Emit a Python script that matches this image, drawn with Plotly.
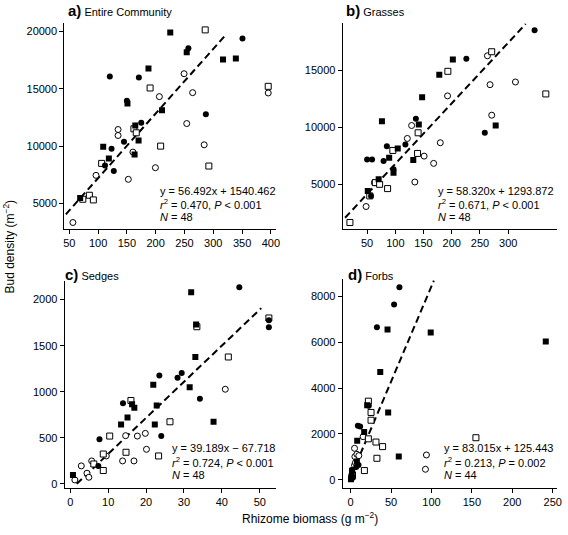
import plotly.graph_objects as go

W, H = 568, 535

# ---------------- data ----------------
# Panel a) Entire Community
a_fsq_x = [68.9, 108.9, 118.7, 151, 164.6, 170.3, 163.4, 187.5, 211, 225.3, 253.9, 316.9, 339.2]
a_fsq_y = [5464, 9935, 8916, 13703, 11788, 10483, 9265, 16778, 13123, 19911, 18200, 17562, 17649]
a_fci_x = [112, 120.4, 123.4, 127.3, 145, 150, 174.9, 170.8, 256.8, 287.1, 350.7]
a_fci_y = [8307, 16082, 9761, 7811, 10370, 13964, 12023, 15995, 18548, 12775, 19390]
a_osq_x = [73.5, 84.9, 91.8, 106.2, 162.2, 166.3, 190.3, 208.6, 286, 292.3, 395.4]
a_osq_y = [5348, 5696, 5290, 8481, 11501, 11153, 15067, 9990, 20143, 8249, 15212]
a_oci_x = [56.3, 96.4, 134.7, 134.7, 152.5, 160.5, 199.5, 206.4, 249.3, 253.9, 264.2, 284.2, 395.4]
a_oci_y = [3317, 7437, 11440, 10918, 7089, 9468, 8104, 14313, 16314, 11963, 14661, 10106, 14632]
a_fit_x = [44, 321]
a_fit_y = [4030, 19670]

# Panel b) Grasses
b_fsq_x = [51.2, 70.5, 76.3, 89.1, 96.8, 104.3, 131.8, 141.6, 147.5, 177.9, 201.9, 277.8]
b_fsq_y = [4442, 5462, 10545, 7354, 6046, 8165, 7145, 10260, 12645, 14622, 15959, 10174]
b_fci_x = [50, 58.8, 57, 79.2, 85, 96.8, 117.8, 136.4, 225.8, 258.5, 346.7]
b_fci_y = [7206, 7206, 4006, 7058, 8365, 6334, 8514, 10756, 16017, 9535, 18513]
b_osq_x = [19.6, 54.7, 64.6, 72.2, 86.3, 95.6, 140.4, 139.4, 193.1, 270.7, 366.6]
b_osq_y = [1686, 4012, 5174, 5026, 4651, 7990, 9534, 7729, 14913, 16628, 12936]
b_oci_x = [48.2, 62.9, 121.3, 128.9, 134.6, 151, 167.9, 179.7, 192.5, 263.2, 267.8, 270.8, 312.8]
b_oci_y = [3082, 5174, 9037, 10170, 5227, 7493, 6857, 8663, 12762, 16273, 13744, 11076, 13980]
b_fit_x = [11, 331]
b_fit_y = [2100, 19060]

# Panel c) Sedges
c_fsq_x = [0.7, 13.4, 15.1, 16.3, 16.9, 22.3, 21.9, 22.8, 31.9, 31.5, 33.2, 33.0, 37.8]
c_fsq_y = [97, 645, 721, 865, 825, 645, 1077, 850, 2079, 1049, 1730, 1377, 674]
c_fci_x = [7.4, 7.7, 13.9, 23.5, 24.0, 28.3, 29.4, 34.2, 44.6, 52.4, 52.4]
c_fci_y = [195, 483, 876, 1175, 519, 1153, 1204, 923, 2133, 1775, 1700]
c_osq_x = [6.2, 8.7, 8.7, 10.4, 14.7, 16.0, 23.3, 26.3, 33.4, 41.7, 52.4]
c_osq_y = [216, 324, 145, 519, 343, 905, 303, 674, 1705, 1377, 1800]
c_oci_x = [1.2, 2.9, 4.4, 4.9, 5.65, 9.5, 13.8, 14.6, 16.8, 17.7, 19.8, 20.1, 40.9]
c_oci_y = [43, 195, 116, 72, 249, 303, 249, 523, 249, 519, 548, 375, 1027]
c_fit_x = [1.7, 50.4]
c_fit_y = [0, 1907]

# Panel d) Forbs
d_fsq_x = [0.5, 0.9, 2.0, 7.8, 8.2, 16.8, 20.5, 36.7, 46.5, 45.7, 59.6, 99.1, 241.4]
d_fsq_y = [30, 104, 400, 798, 1709, 2084, 3250, 4701, 2938, 6553, 1015, 6423, 6032]
d_fci_x = [1.3, 1.7, 3.0, 7.0, 9.8, 9.0, 11.8, 22.5, 32.6, 53.8, 60.4]
d_fci_y = [247, 434, 100, 560, 651, 2360, 2330, 3230, 6654, 7638, 8390]
d_osq_x = [2.4, 17.1, 22, 25.3, 25.3, 22, 31.4, 39.6, 32.6, 155]
d_osq_y = [217, 407, 3430, 2938, 2600, 1790, 1649, 1450, 942, 1837]
d_oci_x = [1.5, 4.9, 5.3, 4.9, 6.0, 7.8, 10.2, 15.5, 93.8, 92.6]
d_oci_y = [120, 1376, 1013, 636, 750, 1115, 1056, 1883, 1085, 463]
d_fit_x = [12, 103]
d_fit_y = [1120, 8680]

titles = ["a)", "b)", "c)", "d)"]
subtitles = ["Entire Community", "Grasses", "Sedges", "Forbs"]
eq_lines = [
    ["y = 56.492x + 1540.462", "<i>r</i><sup>2</sup> = 0.470, <i>P</i> &lt; 0.001", "<i>N</i> = 48"],
    ["y = 58.320x + 1293.872", "<i>r</i><sup>2</sup> = 0.671, <i>P</i> &lt; 0.001", "<i>N</i> = 48"],
    ["y = 39.189x \u2212 67.718", "<i>r</i><sup>2</sup> = 0.724, <i>P</i> &lt; 0.001", "<i>N</i> = 48"],
    ["y = 83.015x + 125.443", "<i>r</i><sup>2</sup> = 0.213, <i>P</i> = 0.002", "<i>N</i> = 44"],
]
x_ticks = [[50, 100, 150, 200, 250, 300, 350, 400],
           [50, 100, 150, 200, 250, 300],
           [0, 10, 20, 30, 40, 50],
           [0, 50, 100, 150, 200, 250]]
y_ticks = [[5000, 10000, 15000, 20000],
           [5000, 10000, 15000],
           [0, 500, 1000, 1500, 2000],
           [0, 2000, 4000, 6000, 8000]]
x_ranges = [[41.4, 409], [6.7, 386], [-1.5, 54.3], [-9.8, 255]]
y_ranges = [[2737, 20779], [1103, 19176], [-46.5, 2202], [-360, 8754]]

# ---------------- layout geometry (pixels) ----------------
boxes = [  # left, right, top, bottom
    (64, 278, 22.7, 230),
    (345.3, 561.7, 22.7, 230),
    (64.3, 278, 282, 490),
    (345.3, 561.7, 280, 490),
]
title_pos = [(66, 11), (347, 11), (63, 276), (349, 276)]
eq_pos = [(158.7, [192, 205, 218]), (439.3, [192, 205, 218]),
          (170.7, [449.5, 463.5, 477]), (445.7, [449.5, 463.5, 477])]

FONT = "Liberation Sans, Arial, Helvetica, sans-serif"

panel_data = [
    (a_fsq_x, a_fsq_y, a_fci_x, a_fci_y, a_osq_x, a_osq_y, a_oci_x, a_oci_y, a_fit_x, a_fit_y),
    (b_fsq_x, b_fsq_y, b_fci_x, b_fci_y, b_osq_x, b_osq_y, b_oci_x, b_oci_y, b_fit_x, b_fit_y),
    (c_fsq_x, c_fsq_y, c_fci_x, c_fci_y, c_osq_x, c_osq_y, c_oci_x, c_oci_y, c_fit_x, c_fit_y),
    (d_fsq_x, d_fsq_y, d_fci_x, d_fci_y, d_osq_x, d_osq_y, d_oci_x, d_oci_y, d_fit_x, d_fit_y),
]

fig = go.Figure()
annotations = []
layout_axes = {}

for i, pdata in enumerate(panel_data):
    n = "" if i == 0 else str(i + 1)
    xa, ya = "x" + n, "y" + n
    fsx, fsy, fcx, fcy, osx, osy, ocx, ocy, fitx, fity = pdata
    fig.add_trace(go.Scatter(x=fitx, y=fity, mode="lines", xaxis=xa, yaxis=ya,
                             line=dict(color="black", width=2, dash="7px,4px"),
                             showlegend=False, hoverinfo="skip"))
    fig.add_trace(go.Scatter(x=ocx, y=ocy, mode="markers", xaxis=xa, yaxis=ya,
                             marker=dict(symbol="circle", size=6, color="white",
                                         line=dict(color="black", width=1)),
                             showlegend=False))
    fig.add_trace(go.Scatter(x=osx, y=osy, mode="markers", xaxis=xa, yaxis=ya,
                             marker=dict(symbol="square", size=6, color="white",
                                         line=dict(color="black", width=1)),
                             showlegend=False))
    fig.add_trace(go.Scatter(x=fcx, y=fcy, mode="markers", xaxis=xa, yaxis=ya,
                             marker=dict(symbol="circle", size=6, color="black",
                                         line=dict(width=0)),
                             showlegend=False))
    fig.add_trace(go.Scatter(x=fsx, y=fsy, mode="markers", xaxis=xa, yaxis=ya,
                             marker=dict(symbol="square", size=6, color="black",
                                         line=dict(width=0)),
                             showlegend=False))

    l, r, t, b = boxes[i]
    common = dict(showline=True, linecolor="black", linewidth=1, ticks="outside",
                  ticklen=4, tickwidth=1, tickcolor="black", showgrid=False,
                  zeroline=False, mirror=False,
                  tickfont=dict(size=11, color="black", family=FONT),
                  tickformat="d")
    layout_axes["xaxis" + n] = dict(common, domain=[l / W, r / W], range=x_ranges[i],
                                    tickvals=x_ticks[i], anchor=ya)
    layout_axes["yaxis" + n] = dict(common, domain=[1 - b / H, 1 - t / H], range=y_ranges[i],
                                    tickvals=y_ticks[i], anchor=xa)

    tx, ty = title_pos[i]
    annotations.append(dict(
        x=tx / W, y=1 - ty / H, xref="paper", yref="paper", xanchor="left", yanchor="middle",
        showarrow=False,
        text="<b><span style='font-size:15px'>" + titles[i] + "</span></b> " + subtitles[i],
        font=dict(size=11, color="black", family=FONT)))
    ex, eys = eq_pos[i]
    for line, ey in zip(eq_lines[i], eys):
        annotations.append(dict(
            x=ex / W, y=1 - ey / H, xref="paper", yref="paper", xanchor="left", yanchor="middle",
            showarrow=False, text=line, font=dict(size=11, color="black", family=FONT)))

annotations.append(dict(x=8.5 / W, y=1 - 247 / H, xref="paper", yref="paper",
                        xanchor="center", yanchor="middle", showarrow=False, textangle=-90,
                        text="Bud density (m<sup>\u22122</sup>)",
                        font=dict(size=12, color="black", family=FONT)))
annotations.append(dict(x=312.5 / W, y=1 - 520 / H, xref="paper", yref="paper",
                        xanchor="center", yanchor="middle", showarrow=False,
                        text="Rhizome biomass (g m<sup>\u22122</sup>)",
                        font=dict(size=12, color="black", family=FONT)))

fig.update_layout(width=W, height=H, margin=dict(l=0, r=0, t=0, b=0),
                  paper_bgcolor="white", plot_bgcolor="white",
                  font=dict(family=FONT, color="black"),
                  hovermode=False,
                  annotations=annotations, **layout_axes)

fig.write_html("out.html", config={"displayModeBar": False, "staticPlot": True},
               post_script="document.body.style.margin='0px';document.body.style.overflow='hidden';")
